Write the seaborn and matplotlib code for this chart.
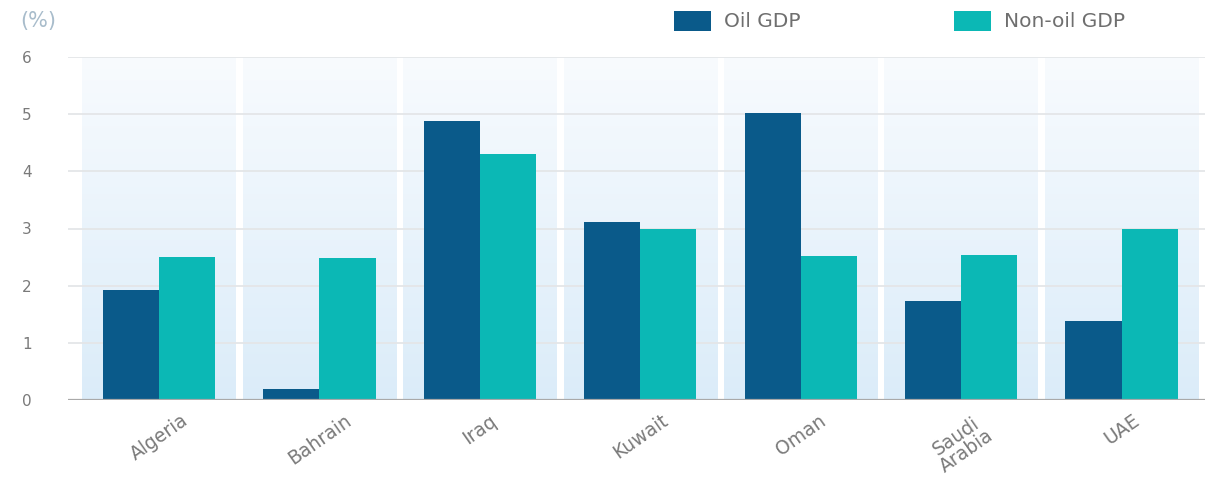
import numpy as np
import pandas as pd
import matplotlib
matplotlib.use("Agg")
import matplotlib.pyplot as plt
from matplotlib.patches import Patch
from matplotlib.colors import LinearSegmentedColormap
import seaborn as sns

# Real GDP growth by component (%)
countries = ["Algeria", "Bahrain", "Iraq", "Kuwait", "Oman", "Saudi\nArabia", "UAE"]
oil_gdp = [1.92, 0.19, 4.88, 3.11, 5.02, 1.73, 1.38]
non_oil_gdp = [2.50, 2.48, 4.30, 3.00, 2.52, 2.53, 3.00]
series_names = ["Oil GDP", "Non-oil GDP"]
y_ticks = [0, 1, 2, 3, 4, 5, 6]

df = pd.DataFrame({
    "country": countries * 2,
    "series": [series_names[0]] * len(countries) + [series_names[1]] * len(countries),
    "value": oil_gdp + non_oil_gdp,
})

oil_color = "#0a5a8a"
non_oil_color = "#0bb8b5"
text_grey = "#7a7a7a"

sns.set_theme(style="white")
plt.rcParams["font.family"] = ["DejaVu Sans"]

fig = plt.figure(figsize=(12.12, 4.79), dpi=100)
ax = fig.add_axes([68 / 1212, 1 - 400 / 479, (1205 - 68) / 1212, (400 - 57) / 479])

# light vertical gradient panels behind each country group
band_cmap = LinearSegmentedColormap.from_list("band", ["#dbecf9", "#f8fbfe"])
grad = np.linspace(0, 1, 256).reshape(-1, 1)
for i in range(len(countries)):
    ax.imshow(grad, cmap=band_cmap, origin="lower", aspect="auto",
              extent=[i - 0.478, i + 0.478, 0, 6], zorder=0, interpolation="bilinear")

for yv in y_ticks[1:]:
    ax.axhline(yv, color="#e4e6e8", lw=1.3, zorder=0.5)

sns.barplot(data=df, x="country", y="value", hue="series", ax=ax,
            palette=[oil_color, non_oil_color], width=0.7, gap=0,
            saturation=1, legend=False, linewidth=0, zorder=2)

ax.axhline(0, color="#a9a9a9", lw=1.6, zorder=3)

ax.set_xlim(-0.567, 6.52)
ax.set_ylim(0, 6)
ax.set_yticks(y_ticks)
ax.set_yticklabels([str(v) for v in y_ticks])
ax.set_xlabel("")
ax.set_ylabel("")
for s in ax.spines.values():
    s.set_visible(False)

ax.tick_params(axis="y", length=0, pad=26, labelsize=11, labelcolor=text_grey)
ax.tick_params(axis="x", length=0, pad=8, labelsize=13.5, labelcolor=text_grey)
for lbl in ax.get_xticklabels():
    lbl.set_rotation(35)
    lbl.set_ha("center")
    lbl.set_linespacing(0.9)

fig.text(20 / 1212, 1 - 21 / 479, "(%)", fontsize=15, color="#a8bccb", va="center", ha="left")

handles = [Patch(facecolor=oil_color, edgecolor="none"),
           Patch(facecolor=non_oil_color, edgecolor="none")]
fig.legend(handles, series_names, loc="center left",
           bbox_to_anchor=(674 / 1212, 1 - 21 / 479), ncol=2, frameon=False,
           fontsize=14.5, labelcolor="#6f6f6f", handlelength=1.84, handleheight=1.15,
           handletextpad=0.65, columnspacing=7.6, borderaxespad=0, borderpad=0)

fig.savefig("out.png", dpi=100, facecolor="white")
